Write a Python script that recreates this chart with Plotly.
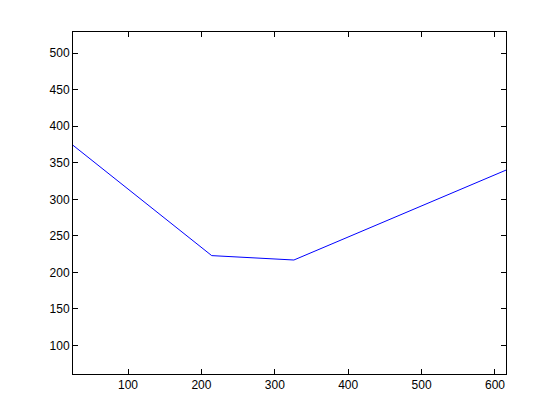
import plotly.graph_objects as go

x_vals = [25, 214, 326, 615]
y_vals = [374, 223, 217, 340]
x_ticks = [100, 200, 300, 400, 500, 600]
y_ticks = [100, 150, 200, 250, 300, 350, 400, 450, 500]

fig = go.Figure()
fig.add_trace(go.Scatter(x=x_vals, y=y_vals, mode="lines",
                         line=dict(color="rgb(0,0,255)", width=1)))

axis_common = dict(showline=True, linecolor="black", linewidth=1, mirror="ticks",
                   ticks="inside", ticklen=5, tickcolor="black", tickwidth=1,
                   showgrid=False, zeroline=False,
                   tickfont=dict(family="Liberation Sans, Arial, sans-serif", size=12, color="black"))

fig.update_layout(
    width=560, height=420,
    margin=dict(l=65, r=62, t=24, b=54),
    paper_bgcolor="white", plot_bgcolor="white",
    showlegend=False,
    xaxis=dict(range=[25, 615], tickvals=x_ticks, ticktext=[str(v) for v in x_ticks], **axis_common),
    yaxis=dict(range=[61, 529], tickvals=y_ticks, ticktext=[str(v) for v in y_ticks], **axis_common),
)
fig.write_html("out.html")
